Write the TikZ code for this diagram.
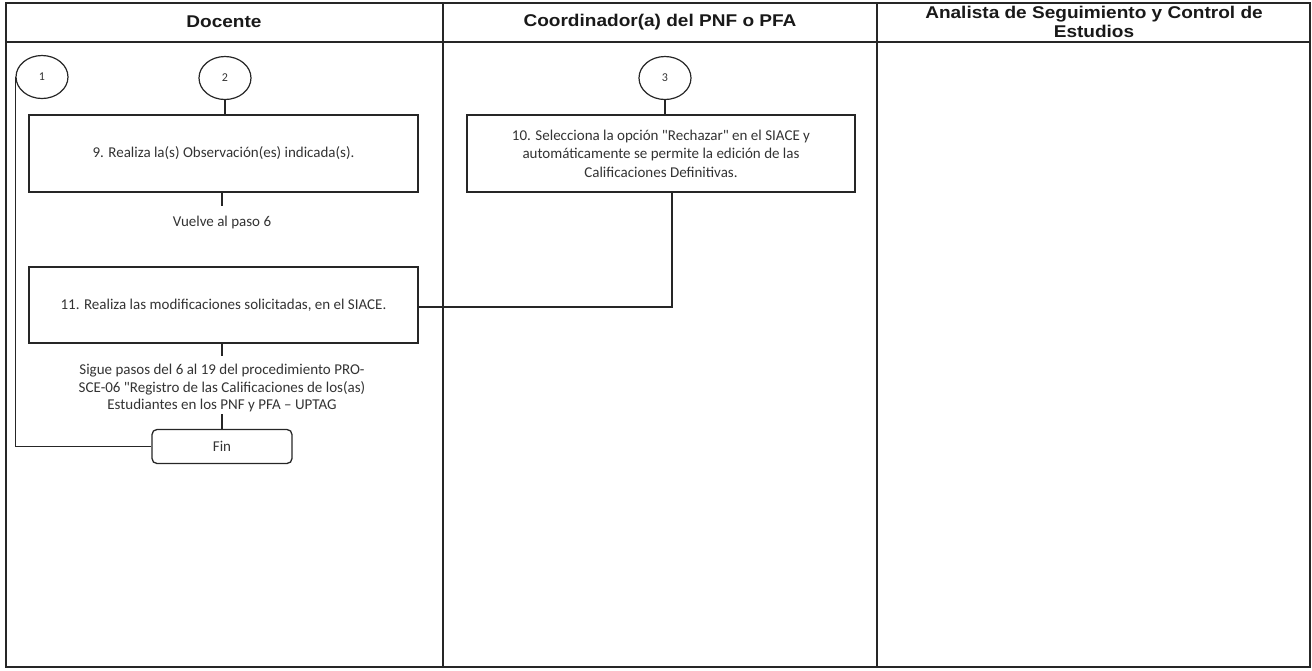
\documentclass[tikz,border=0pt]{standalone}
\usepackage{fontspec}
\usetikzlibrary{shapes.geometric}
\setmainfont{Carlito}
\newfontfamily\hdrfont{Liberation Sans}[FakeStretch=1.12]
\begin{document}
\begin{tikzpicture}[x=1pt,y=-1pt,
  frame/.style={draw=black!85,line width=1.3pt},
  lane/.style={font=\hdrfont\bfseries\fontsize{17pt}{19pt}\selectfont,align=center,inner sep=0pt,text=black!90},
  stepbox/.style={draw=black!85,line width=1.3pt,rectangle,inner sep=0pt,
    font=\fontsize{15pt}{18.5pt}\selectfont,align=center,text=black!80},
  conn/.style={draw=black!85,ellipse,line width=1.2pt,inner sep=0pt,minimum width=52pt,minimum height=43pt,
    font=\fontsize{12pt}{14pt}\selectfont,text=black!80},
  note/.style={font=\fontsize{15pt}{17.5pt}\selectfont,align=center,inner sep=0pt,text=black!80},
  endbox/.style={draw=black!85,line width=1.3pt,rounded corners=5pt,inner sep=0pt,
    minimum width=140pt,minimum height=34pt,font=\fontsize{15pt}{18pt}\selectfont,text=black!80},
  link/.style={draw=black!85,line width=1.2pt}]
\useasboundingbox (0,0) rectangle (1312,670);

% swimlane frame
\draw[frame] (6,3) rectangle (1310,667);
\draw[frame] (6,42) -- (1310,42);
\draw[frame] (443,3) -- (443,667);
\draw[frame] (877,3) -- (877,667);

% lane titles
\node[lane] (hdoc) at (224,22) {Docente};
\node[lane] (hcoo) at (660,22) {Coordinador(a) del PNF o PFA};
\node[lane] (hana) at (1094,21.5) {Analista de Seguimiento y Control de\\Estudios};

% connectors
\node[conn] (c1) at (42,77) {1};
\node[conn] (c2) at (225,78) {2};
\node[conn] (c3) at (665,78) {3};

% steps
\node[stepbox,minimum width=389pt,minimum height=77pt] (b9) at (223.5,153.5)
  {9. Realiza la(s) Observación(es) indicada(s).};
\node[stepbox,minimum width=388pt,minimum height=77pt] (b10) at (661,153.5)
  {10. Selecciona la opción \textquotedbl Rechazar\textquotedbl{} en el SIACE y\\automáticamente se permite la edición de las\\Calificaciones Definitivas.};
\node[stepbox,minimum width=389pt,minimum height=76pt] (b11) at (223.5,305)
  {11. Realiza las modificaciones solicitadas, en el SIACE.};

\node[note] (vuelve) at (222,222) {Vuelve al paso 6};
\node[note] (sigue) at (222,388)
  {Sigue pasos del 6 al 19 del procedimiento PRO-\\SCE-06 \textquotedbl Registro de las Calificaciones de los(as)\\Estudiantes en los PNF y PFA – UPTAG};

\node[endbox] (fin) at (222,446.5) {Fin};

% free ends of the short leaders
\coordinate (v9) at (222,206);
\coordinate (v11) at (222,356);
\coordinate (vs) at (222,414);

% flow lines
\draw[link] (c2) -- (c2 |- b9.north);
\draw[link] (c3) -- (c3 |- b10.north);
\draw[link] (b9.south -| v9) -- (v9);
\draw[link] ([xshift=11pt]b10.south) |- ([yshift=-2pt]b11.east);
\draw[link] (b11.south -| v11) -- (v11);
\draw[link] (vs) -- (fin.north -| vs);
\draw[link] (c1.west) |- (fin.west);
\end{tikzpicture}
\end{document}
